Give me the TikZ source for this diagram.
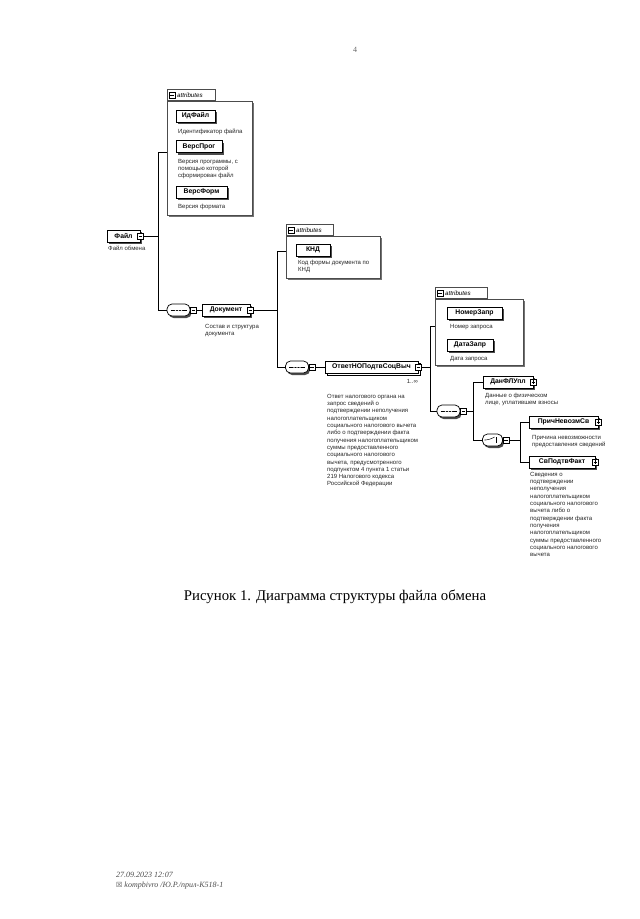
\documentclass[tikz,border=0pt]{standalone}
\usepackage{fontspec}
\setmainfont{Liberation Serif}
\setsansfont{Liberation Sans}
\newfontfamily\symfont{DejaVu Sans}
\usetikzlibrary{positioning,calc,shadows}

\begin{document}
\begin{tikzpicture}[x=1pt,y=-1pt,
  font=\sffamily\fontsize{6}{7.3}\selectfont,
  shd/.style={drop shadow={shadow xshift=1.6pt,shadow yshift=-2pt,fill=black!70,opacity=1}},
  elem/.style={draw,fill=white,line width=0.7pt,minimum height=12,inner sep=1pt,shd,
    font=\sffamily\bfseries\fontsize{6.8}{8}\selectfont},
  attr/.style={elem},
  multi/.style={copy shadow={shadow xshift=2.5pt,shadow yshift=-2.5pt,fill=white,draw=black,opacity=1}},
  desc/.style={anchor=north west,inner sep=0,align=left,text=black!85},
  agrp/.style={draw=black!70,fill=white,line width=0.6pt,
    drop shadow={shadow xshift=1.2pt,shadow yshift=-1.2pt,fill=black!55,opacity=1}},
  atab/.style={draw=black!70,fill=white,line width=0.6pt,inner sep=0},
  atxt/.style={inner sep=0,font=\sffamily\itshape\fontsize{6.2}{7}\selectfont},
  tgl/.style={draw,fill=white,line width=0.5pt,minimum size=6,inner sep=0},
  tminus/.style={tgl,path picture={\draw[line width=0.5pt]
    ([xshift=1.2pt]path picture bounding box.west) -- ([xshift=-1.2pt]path picture bounding box.east);}},
  tplus/.style={tgl,path picture={\draw[line width=0.5pt]
    ([xshift=1.2pt]path picture bounding box.west) -- ([xshift=-1.2pt]path picture bounding box.east)
    ([yshift=1.2pt]path picture bounding box.south) -- ([yshift=-1.2pt]path picture bounding box.north);}},
  seq/.style={draw,fill=white,line width=0.7pt,rounded corners=5pt,minimum width=23,minimum height=12,inner sep=0,shd,
    path picture={\draw[line width=0.5pt] ([xshift=-8pt]path picture bounding box.center) -- ([xshift=8pt]path picture bounding box.center);
      \foreach \dx in {-3,0,3} \fill ([xshift=\dx pt]path picture bounding box.center) circle (0.9pt);}},
  chc/.style={draw,fill=white,line width=0.7pt,rounded corners=5pt,minimum width=20,minimum height=12,inner sep=0,shd,
    path picture={\draw[line width=0.5pt] ([xshift=-7pt]path picture bounding box.center) -- ([xshift=-3pt]path picture bounding box.center)
      -- ([xshift=2pt,yshift=3pt]path picture bounding box.center);
      \draw[line width=0.5pt] ([xshift=3.5pt,yshift=3pt]path picture bounding box.center) -- ([xshift=3.5pt,yshift=-3pt]path picture bounding box.center);
      \foreach \dy in {-2.5,0,2.5} \fill ([xshift=5.5pt,yshift=\dy pt]path picture bounding box.center) circle (0.6pt);}},
  wire/.style={line width=0.6pt}
]
\useasboundingbox (0,0) rectangle (640,919);
\node[font=\rmfamily\fontsize{8}{9}\selectfont,text=black!60] (pgno) at (355,50) {4};

% root
\node[elem,minimum width=33] (fajl) at (123.5,236) {Файл};
\node[tminus] (fajlT) at (fajl.east) {};
\node[desc] (fajlD) at (108,246) {Файл обмена};
\draw[wire] (fajlT.east) -- ++(15,0) coordinate (busA);

% attributes of Файл
\node[agrp,minimum width=85,minimum height=114,anchor=north west] (attrA) at (167,101) {};
\node[atab,minimum width=48,minimum height=11,anchor=south west] (attrAtab) at (attrA.north west) {};
\node[tminus,right=2pt of attrAtab.west] (attrAtg) {};
\node[atxt,right=1.5pt of attrAtg] (attrAtx) {attributes};
\node[attr,minimum width=39] (idf) at (195.5,116) {ИдФайл};
\node[desc] (idfD) at (178,129) {Идентификатор файла};
\node[attr,minimum width=46] (vprog) at (199,146.5) {ВерсПрог};
\node[desc] (vprogD) at (178,159) {Версия программы, с\\помощью которой\\сформирован файл};
\node[attr,minimum width=51] (vform) at (201.5,192) {ВерсФорм};
\node[desc] (vformD) at (178,204) {Версия формата};

\node[seq] (seqA) at (178.5,310) {};
\node[tminus,anchor=west] (seqAT) at (seqA.east) {};
\draw[wire] (busA) |- ($(attrAtab.north west)!.5!(attrA.south west)$);
\draw[wire] (busA) |- (seqA.west);

% Документ
\node[elem,minimum width=48] (dok) at (226,310) {Документ};
\node[tminus] (dokT) at (dok.east) {};
\node[desc] (dokD) at (205,324) {Состав и структура\\документа};
\draw[wire] (seqAT.east) -- (dok.west);
\draw[wire] (dokT.east) -- ++(24,0) coordinate (busB);

\node[agrp,minimum width=94,minimum height=42,anchor=north west] (attrB) at (286,236) {};
\node[atab,minimum width=47,minimum height=11,anchor=south west] (attrBtab) at (attrB.north west) {};
\node[tminus,right=2pt of attrBtab.west] (attrBtg) {};
\node[atxt,right=1.5pt of attrBtg] (attrBtx) {attributes};
\node[attr,minimum width=34] (knd) at (313,250) {КНД};
\node[desc] (kndD) at (298,260) {Код формы документа по\\КНД};

\node[seq] (seqB) at (297,367) {};
\node[tminus,anchor=west] (seqBT) at (seqB.east) {};
\draw[wire] (busB) |- ($(attrBtab.north west)!.5!(attrB.south west)$);
\draw[wire] (busB) |- (seqB.west);

% ОтветНОПодтвСоцВыч
\node[elem,multi,minimum width=93] (otv) at (371.5,367) {ОтветНОПодтвСоцВыч};
\node[tminus] (otvT) at (otv.east) {};
\node[desc,anchor=north east] (otvM) at (418,379) {1..∞};
\node[desc] (otvD) at (327,394) {Ответ налогового органа на\\запрос сведений о\\подтверждении неполучения\\налогоплательщиком\\социального налогового вычета\\либо о подтверждении факта\\получения налогоплательщиком\\суммы предоставленного\\социального налогового\\вычета, предусмотренного\\подпунктом 4 пункта 1 статьи\\219 Налогового кодекса\\Российской Федерации};
\draw[wire] (seqBT.east) -- (otv.west);
\draw[wire] (otvT.east) -- ++(9,0) coordinate (busC);

\node[agrp,minimum width=88,minimum height=66,anchor=north west] (attrC) at (435,299) {};
\node[atab,minimum width=52,minimum height=11,anchor=south west] (attrCtab) at (attrC.north west) {};
\node[tminus,right=2pt of attrCtab.west] (attrCtg) {};
\node[atxt,right=1.5pt of attrCtg] (attrCtx) {attributes};
\node[attr,minimum width=55] (nomer) at (474.5,313) {НомерЗапр};
\node[desc] (nomerD) at (450,324) {Номер запроса};
\node[attr,minimum width=46] (data) at (470,345) {ДатаЗапр};
\node[desc] (dataD) at (450,356) {Дата запроса};

\node[seq] (seqC) at (448.5,411) {};
\node[tminus,anchor=west] (seqCT) at (seqC.east) {};
\draw[wire] (busC) |- ($(attrCtab.north west)!.5!(attrC.south west)$);
\draw[wire] (busC) |- (seqC.west);
\draw[wire] (seqCT.east) -- ++(6,0) coordinate (busD);

\node[elem,minimum width=50] (danfl) at (508,382) {ДанФЛУпл};
\node[tplus] (danflT) at (danfl.east) {};
\node[desc] (danflD) at (485,393) {Данные о физическом\\лице, уплатившем взносы};

\node[chc] (choice) at (492.5,440) {};
\node[tminus,anchor=west] (choiceT) at (choice.east) {};
\draw[wire] (busD) |- (danfl.west);
\draw[wire] (busD) |- (choice.west);
\draw[wire] (choiceT.east) -- ++(11,0) coordinate (busE);

\node[elem,minimum width=69] (prich) at (563.5,422) {ПричНевозмСв};
\node[tplus] (prichT) at (prich.east) {};
\node[desc] (prichD) at (532,435) {Причина невозможности\\предоставления сведений};
\node[elem,minimum width=66] (svp) at (562,462) {СвПодтвФакт};
\node[tplus] (svpT) at (svp.east) {};
\node[desc] (svpD) at (530,472) {Сведения о\\подтверждении\\неполучения\\налогоплательщиком\\социального налогового\\вычета либо о\\подтверждении факта\\получения\\налогоплательщиком\\суммы предоставленного\\социального налогового\\вычета};
\draw[wire] (busE) |- (prich.west);
\draw[wire] (busE) |- (svp.west);

\node[font=\rmfamily\fontsize{14.8}{17}\selectfont] (capt) at (335,597) {Рисунок 1. Диаграмма структуры файла обмена};
\node[anchor=west,align=left,inner sep=0,text=black!70,font=\rmfamily\itshape\fontsize{8}{10}\selectfont] (foot) at (116,881)
  {27.09.2023 12:07\\{\symfont\fontsize{7}{10}\selectfont☒} kompbivro /Ю.Р./прил-K518-1};
\end{tikzpicture}
\end{document}
